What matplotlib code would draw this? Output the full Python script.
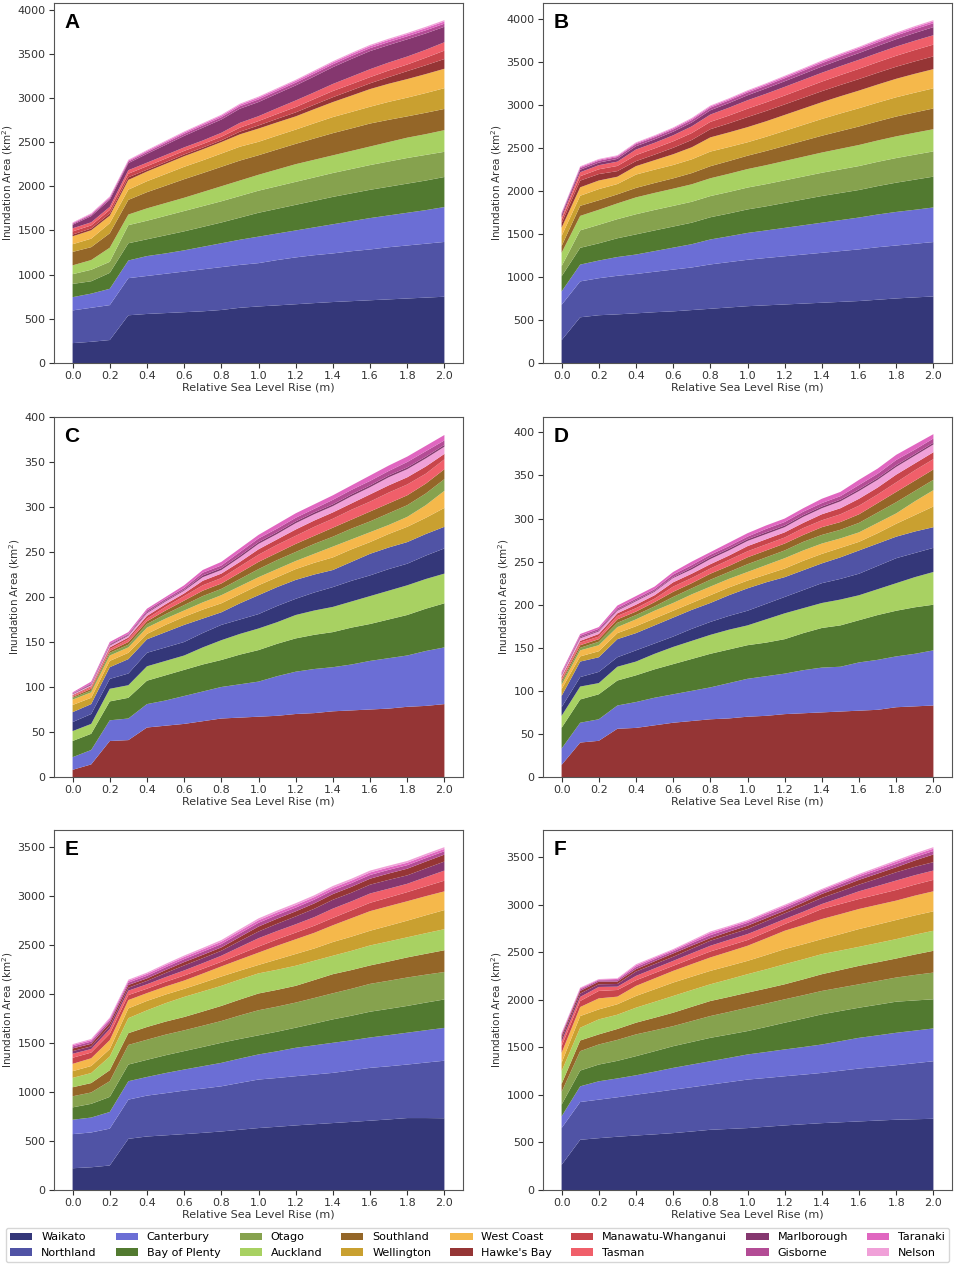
import matplotlib.pyplot as plt
from matplotlib.patches import Patch

slr = [0.0, 0.1, 0.2, 0.3, 0.4, 0.5, 0.6, 0.7, 0.8, 0.9, 1.0,
       1.1, 1.2, 1.3, 1.4, 1.5, 1.6, 1.7, 1.8, 1.9, 2.0]

regions = ['Waikato', 'Northland', 'Canterbury', 'Bay of Plenty', 'Otago', 'Auckland',
           'Southland', 'Wellington', 'West Coast', "Hawke's Bay", 'Manawatu-Whanganui',
           'Tasman', 'Marlborough', 'Gisborne', 'Taranaki', 'Nelson']

colours = ['#343779', '#5053a5', '#6b6ed5', '#527a30', '#86a24e', '#a8d162',
           '#946628', '#c9a030', '#f5b84b', '#953535', '#c8454b',
           '#f05f6a', '#85376f', '#b34c95', '#e066c0', '#f0a0d8']

# stacking order (bottom -> top) used in each pair of panels
order_ab = regions
order_cd = ["Hawke's Bay", 'Canterbury', 'Bay of Plenty', 'Auckland', 'Waikato', 'Northland',
            'Wellington', 'West Coast', 'Otago', 'Southland', 'Tasman', 'Manawatu-Whanganui',
            'Nelson', 'Marlborough', 'Gisborne', 'Taranaki']
order_ef = ['Waikato', 'Northland', 'Canterbury', 'Bay of Plenty', 'Otago', 'Southland',
            'Auckland', 'Wellington', 'West Coast', 'Manawatu-Whanganui', 'Tasman',
            'Marlborough', "Hawke's Bay", 'Gisborne', 'Taranaki', 'Nelson']

# inundation area (km2) per region, panel A
area_a = {
    'Waikato': [225, 240, 260, 540, 555, 565, 575, 585, 600, 625, 640, 652, 665, 678, 690, 700, 710, 720, 730, 740, 750],
    'Northland': [370, 385, 395, 420, 430, 445, 460, 475, 485, 485, 490, 513, 530, 542, 550, 565, 575, 590, 600, 610, 620],
    'Canterbury': [150, 160, 185, 200, 225, 230, 240, 255, 270, 285, 300, 300, 305, 315, 330, 340, 355, 360, 370, 380, 395],
    'Bay of Plenty': [150, 140, 180, 195, 190, 205, 215, 225, 235, 250, 270, 280, 290, 300, 310, 315, 320, 325, 330, 335, 340],
    'Otago': [110, 130, 125, 205, 210, 220, 230, 235, 240, 245, 250, 255, 260, 265, 270, 275, 280, 285, 290, 290, 285],
    'Auckland': [100, 110, 160, 120, 140, 145, 150, 160, 170, 175, 180, 190, 200, 200, 200, 205, 210, 220, 230, 235, 245],
    'Southland': [152, 146, 163, 166, 183, 196, 210, 214, 220, 226, 221, 226, 230, 241, 251, 255, 260, 252, 241, 242, 240],
    'Wellington': [87, 96, 114, 116, 124, 132, 140, 144, 150, 157, 152, 157, 161, 172, 182, 186, 190, 203, 212, 223, 235],
    'West Coast': [90, 95, 85, 110, 110, 115, 120, 125, 130, 140, 150, 150, 150, 160, 170, 185, 200, 205, 210, 215, 220],
    "Hawke's Bay": [20, 20, 25, 30, 20, 20, 20, 20, 20, 30, 35, 40, 45, 50, 55, 60, 65, 75, 90, 100, 110],
    'Manawatu-Whanganui': [35, 35, 40, 40, 40, 40, 40, 40, 40, 45, 50, 55, 60, 65, 70, 70, 70, 75, 75, 85, 95],
    'Tasman': [35, 35, 35, 40, 40, 40, 40, 40, 45, 55, 55, 65, 75, 75, 80, 85, 90, 90, 90, 90, 95],
    'Marlborough': [40, 70, 80, 80, 100, 115, 130, 145, 150, 160, 160, 165, 170, 180, 190, 200, 205, 198, 195, 185, 175],
    'Gisborne': [12, 15, 18, 18, 20, 22, 24, 25, 26, 28, 30, 30, 31, 32, 32, 33, 33, 34, 34, 35, 35],
    'Taranaki': [8, 10, 12, 12, 14, 15, 16, 17, 18, 18, 20, 20, 21, 22, 22, 23, 23, 24, 24, 25, 25],
    'Nelson': [6, 8, 8, 8, 9, 10, 10, 10, 11, 11, 12, 12, 12, 13, 13, 13, 14, 14, 14, 15, 15],
}

area_b = {
    'Waikato': [265, 531, 555, 565, 577, 590, 600, 615, 630, 645, 660, 670, 680, 690, 700, 710, 720, 735, 750, 762, 773],
    'Northland': [410, 417, 430, 448, 457, 470, 485, 495, 515, 527, 539, 550, 560, 570, 580, 590, 600, 610, 615, 623, 632],
    'Canterbury': [156, 195, 205, 218, 226, 240, 255, 270, 290, 300, 312, 320, 330, 340, 350, 360, 370, 380, 390, 395, 402],
    'Bay of Plenty': [176, 195, 200, 218, 234, 240, 245, 250, 258, 265, 273, 280, 290, 300, 310, 315, 320, 330, 340, 350, 358],
    'Otago': [117, 203, 215, 222, 234, 238, 240, 243, 246, 250, 254, 258, 262, 266, 270, 274, 278, 282, 286, 290, 293],
    'Auckland': [156, 168, 175, 183, 196, 198, 200, 203, 207, 211, 215, 220, 225, 230, 235, 240, 245, 248, 252, 255, 258],
    'Southland': [78, 117, 110, 105, 110, 115, 120, 130, 140, 148, 155, 165, 175, 185, 195, 205, 215, 222, 230, 236, 241],
    'Wellington': [117, 117, 130, 120, 155, 155, 155, 160, 170, 163, 156, 165, 175, 185, 195, 205, 212, 218, 224, 229, 234],
    'West Coast': [97, 98, 100, 85, 98, 110, 125, 140, 165, 170, 176, 180, 185, 190, 195, 200, 205, 210, 215, 220, 223],
    "Hawke's Bay": [51, 78, 75, 65, 58, 65, 75, 85, 95, 105, 117, 120, 122, 125, 128, 131, 134, 137, 140, 144, 148],
    'Manawatu-Whanganui': [39, 51, 55, 60, 70, 72, 75, 80, 85, 90, 97, 100, 103, 107, 111, 115, 119, 123, 127, 132, 137],
    'Tasman': [28, 46, 48, 50, 65, 65, 70, 78, 85, 92, 98, 100, 101, 102, 103, 104, 105, 106, 107, 108, 109],
    'Marlborough': [27, 29, 30, 32, 38, 40, 42, 45, 50, 54, 58, 62, 65, 68, 72, 75, 78, 82, 86, 90, 94],
    'Gisborne': [15, 20, 22, 22, 25, 25, 26, 28, 30, 30, 32, 33, 35, 37, 39, 40, 41, 42, 43, 44, 45],
    'Taranaki': [10, 12, 12, 12, 12, 13, 14, 15, 15, 15, 16, 17, 18, 18, 19, 20, 20, 21, 21, 22, 22],
    'Nelson': [6, 8, 8, 8, 8, 9, 9, 10, 10, 10, 10, 10, 11, 11, 12, 12, 12, 13, 13, 14, 14],
}

area_c = {
    'Waikato': [10, 11, 11, 13, 15, 15, 15, 16, 17, 16, 16, 18, 18, 20, 22, 23, 23, 24, 24, 26, 28],
    'Northland': [11, 11, 13, 16, 15, 17, 19, 16, 14, 18, 21, 21, 21, 20, 19, 21, 24, 24, 24, 24, 24],
    'Canterbury': [14, 16, 23, 24, 26, 28, 31, 33, 35, 37, 39, 44, 47, 49, 49, 51, 54, 56, 57, 61, 63],
    'Bay of Plenty': [18, 18, 21, 23, 26, 28, 29, 30, 30, 33, 35, 36, 37, 38, 39, 41, 41, 43, 45, 47, 49],
    'Otago': [2, 2, 3, 3, 4, 5, 6, 7, 7, 8, 9, 10, 10, 11, 11, 12, 12, 13, 13, 13, 13],
    'Auckland': [11, 11, 14, 14, 16, 16, 16, 19, 22, 23, 24, 24, 26, 27, 28, 29, 31, 32, 33, 33, 33],
    'Southland': [1, 2, 2, 3, 3, 4, 5, 6, 6, 7, 8, 8, 9, 9, 10, 10, 11, 11, 11, 11, 11],
    'Wellington': [8, 7, 7, 7, 6, 8, 9, 10, 10, 10, 11, 11, 12, 13, 14, 14, 13, 15, 17, 18, 21],
    'West Coast': [6, 6, 6, 6, 7, 7, 7, 8, 9, 9, 9, 9, 9, 10, 12, 11, 11, 10, 11, 14, 19],
    "Hawke's Bay": [8, 14, 40, 41, 55, 57, 59, 62, 65, 66, 67, 68, 70, 71, 73, 74, 75, 76, 78, 79, 81],
    'Manawatu-Whanganui': [1, 1, 2, 2, 3, 3, 3, 5, 5, 5, 6, 6, 7, 7, 7, 7, 8, 8, 8, 8, 6],
    'Tasman': [1, 2, 2, 3, 3, 4, 5, 6, 6, 7, 8, 9, 9, 10, 10, 11, 11, 12, 12, 11, 11],
    'Marlborough': [0.5, 1, 1, 1, 1, 1, 1, 2, 2, 2, 2, 2, 2, 2, 2, 2, 2, 2, 2, 2, 2],
    'Gisborne': [0.5, 1, 1, 1, 2, 2, 2, 3, 3, 4, 4, 4, 4, 4, 5, 5, 5, 5, 6, 6, 5],
    'Taranaki': [1, 2, 2, 2, 2, 2, 3, 3, 4, 4, 4, 5, 5, 5, 5, 5, 6, 6, 6, 6, 6],
    'Nelson': [1, 1, 2, 2, 3, 3, 3, 4, 4, 5, 6, 6, 7, 7, 7, 8, 8, 9, 9, 9, 8],
}

area_d = {
    'Waikato': [10, 11, 13, 11, 13, 12, 12, 14, 15, 16, 17, 18, 19, 21, 23, 24, 25, 27, 29, 28, 28],
    'Northland': [13, 18, 17, 21, 20, 21, 22, 22, 22, 24, 26, 25, 23, 23, 23, 25, 27, 26, 25, 25, 24],
    'Canterbury': [19, 23, 25, 27, 30, 32, 33, 35, 37, 41, 44, 46, 47, 50, 52, 52, 56, 58, 59, 61, 64],
    'Bay of Plenty': [24, 27, 29, 29, 31, 33, 35, 37, 39, 39, 39, 39, 40, 43, 46, 48, 49, 52, 53, 54, 53],
    'Otago': [3, 3, 4, 5, 5, 5, 7, 7, 8, 8, 9, 9, 9, 10, 10, 10, 11, 12, 13, 12, 12],
    'Auckland': [14, 15, 13, 16, 16, 18, 20, 21, 22, 23, 23, 27, 30, 29, 29, 30, 29, 30, 32, 35, 38],
    'Southland': [2, 3, 3, 4, 4, 5, 6, 6, 7, 7, 8, 8, 8, 8, 9, 9, 10, 11, 12, 12, 12],
    'Wellington': [8, 6, 7, 7, 8, 8, 8, 8, 9, 9, 9, 9, 10, 11, 11, 11, 10, 12, 15, 19, 24],
    'West Coast': [5, 7, 7, 7, 8, 9, 9, 10, 10, 10, 10, 11, 12, 12, 12, 11, 11, 12, 12, 16, 19],
    "Hawke's Bay": [14, 40, 42, 56, 57, 60, 63, 65, 67, 68, 70, 71, 73, 74, 75, 76, 77, 78, 81, 82, 83],
    'Manawatu-Whanganui': [2, 2, 3, 3, 4, 4, 5, 5, 5, 5, 6, 6, 6, 6, 7, 7, 8, 8, 9, 8, 8],
    'Tasman': [2, 3, 3, 4, 4, 4, 6, 6, 6, 7, 7, 7, 7, 8, 8, 9, 10, 10, 11, 12, 12],
    'Marlborough': [1, 1, 1, 1, 1, 1, 1, 2, 2, 2, 2, 2, 2, 2, 2, 2, 2, 2, 2, 2, 2],
    'Gisborne': [1, 2, 2, 2, 2, 2, 3, 3, 3, 3, 3, 4, 4, 4, 4, 4, 5, 5, 6, 5, 5],
    'Taranaki': [2, 2, 2, 3, 3, 3, 3, 4, 3, 4, 4, 4, 4, 4, 5, 5, 6, 6, 6, 6, 5],
    'Nelson': [2, 3, 3, 3, 4, 4, 5, 5, 6, 6, 6, 6, 6, 7, 7, 8, 9, 9, 9, 9, 9],
}

area_e = {
    'Waikato': [222, 232, 250, 522, 546, 558, 570, 583, 597, 615, 632, 645, 659, 671, 683, 695, 707, 720, 734, 734, 732],
    'Northland': [348, 355, 376, 400, 417, 430, 444, 452, 461, 478, 495, 498, 502, 507, 512, 525, 539, 542, 546, 566, 587],
    'Canterbury': [147, 152, 170, 188, 190, 205, 215, 228, 239, 248, 256, 272, 290, 298, 307, 307, 310, 318, 325, 330, 335],
    'Bay of Plenty': [126, 140, 154, 170, 175, 182, 188, 196, 205, 200, 195, 200, 205, 222, 239, 251, 263, 268, 273, 282, 290],
    'Otago': [113, 116, 160, 200, 205, 210, 212, 217, 222, 240, 256, 256, 256, 261, 266, 275, 284, 287, 290, 285, 280],
    'Auckland': [96, 102, 140, 153, 170, 188, 205, 205, 205, 205, 205, 205, 205, 197, 188, 196, 204, 205, 205, 210, 215],
    'Southland': [92, 96, 112, 120, 130, 133, 136, 145, 154, 162, 171, 171, 171, 183, 195, 191, 188, 196, 205, 213, 222],
    'Wellington': [68, 72, 75, 100, 96, 88, 82, 88, 95, 90, 86, 105, 120, 125, 140, 145, 150, 160, 170, 183, 195],
    'West Coast': [75, 79, 92, 85, 80, 82, 85, 94, 103, 114, 126, 140, 150, 160, 171, 188, 200, 200, 198, 195, 191],
    "Hawke's Bay": [27, 27, 32, 28, 26, 30, 34, 34, 34, 42, 51, 52, 52, 55, 58, 60, 61, 65, 68, 70, 71],
    'Manawatu-Whanganui': [62, 58, 65, 51, 45, 48, 51, 49, 47, 54, 61, 65, 68, 72, 75, 80, 85, 88, 93, 100, 109],
    'Tasman': [41, 36, 48, 45, 45, 48, 52, 57, 62, 74, 86, 85, 85, 88, 95, 92, 95, 90, 85, 94, 103],
    'Marlborough': [27, 27, 32, 30, 34, 42, 51, 51, 51, 60, 68, 74, 80, 85, 90, 88, 90, 90, 86, 89, 92],
    'Gisborne': [20, 22, 24, 24, 26, 28, 30, 32, 34, 36, 38, 38, 38, 38, 38, 38, 38, 37, 36, 35, 34],
    'Taranaki': [14, 16, 18, 18, 20, 21, 22, 23, 24, 25, 26, 26, 26, 26, 26, 26, 26, 25, 25, 25, 24],
    'Nelson': [10, 11, 12, 12, 13, 14, 15, 16, 17, 18, 19, 19, 19, 19, 19, 19, 19, 18, 18, 18, 18],
}

area_f = {
    'Waikato': [264, 528, 545, 560, 573, 585, 598, 615, 633, 642, 651, 665, 679, 691, 703, 712, 721, 730, 739, 744, 749],
    'Northland': [387, 397, 405, 415, 429, 443, 457, 466, 475, 492, 510, 513, 517, 522, 528, 542, 556, 564, 573, 589, 605],
    'Canterbury': [123, 165, 193, 198, 204, 216, 229, 238, 246, 255, 264, 273, 282, 290, 299, 311, 323, 332, 341, 343, 345],
    'Bay of Plenty': [123, 166, 176, 185, 201, 215, 228, 237, 246, 246, 246, 263, 281, 299, 317, 317, 317, 322, 327, 317, 306],
    'Otago': [134, 204, 211, 220, 229, 220, 211, 220, 229, 237, 246, 246, 246, 246, 246, 246, 246, 250, 254, 268, 281],
    'Auckland': [134, 134, 158, 150, 158, 167, 176, 176, 176, 185, 194, 202, 211, 211, 211, 205, 200, 202, 204, 208, 211],
    'Southland': [84, 112, 106, 115, 123, 132, 141, 150, 158, 158, 158, 158, 158, 167, 176, 185, 194, 197, 200, 215, 229],
    'Wellington': [88, 123, 105, 110, 123, 132, 141, 141, 141, 141, 140, 150, 159, 158, 158, 172, 187, 194, 201, 203, 204],
    'West Coast': [105, 95, 116, 80, 106, 115, 123, 132, 141, 150, 159, 176, 193, 202, 211, 211, 211, 208, 204, 208, 211],
    "Hawke's Bay": [25, 28, 28, 25, 25, 30, 35, 32, 28, 32, 35, 32, 28, 35, 42, 46, 50, 52, 53, 67, 81],
    'Manawatu-Whanganui': [70, 63, 78, 70, 59, 56, 53, 58, 63, 62, 60, 65, 70, 88, 106, 106, 105, 108, 112, 116, 120],
    'Tasman': [46, 43, 42, 35, 46, 49, 52, 56, 60, 62, 63, 58, 53, 52, 52, 66, 81, 90, 99, 99, 98],
    'Marlborough': [35, 35, 28, 28, 46, 45, 43, 48, 53, 53, 53, 57, 60, 62, 64, 67, 70, 78, 87, 88, 88],
    'Gisborne': [16, 16, 14, 16, 22, 22, 22, 26, 30, 30, 30, 30, 30, 28, 26, 28, 30, 32, 34, 35, 36],
    'Taranaki': [12, 12, 8, 12, 18, 16, 14, 18, 25, 20, 18, 20, 20, 18, 16, 18, 20, 22, 24, 24, 25],
    'Nelson': [7, 7, 5, 7, 12, 10, 10, 12, 14, 12, 12, 12, 13, 12, 11, 12, 13, 14, 15, 15, 16],
}

W, H = 955, 1265
fig = plt.figure(figsize=(W / 100, H / 100), dpi=100)

# (letter, data, order, left px, top px)
panels = [
    ('A', area_a, order_ab, 54, 3),
    ('B', area_b, order_ab, 543, 3),
    ('C', area_c, order_cd, 54, 417),
    ('D', area_d, order_cd, 543, 417),
    ('E', area_e, order_ef, 54, 830),
    ('F', area_f, order_ef, 543, 830),
]
aw, ah = 409, 360

colour_of = dict(zip(regions, colours))

for letter, data, order, left, top in panels:
    ax = fig.add_axes([left / W, 1 - (top + ah) / H, aw / W, ah / H])
    ax.stackplot(slr, [data[r] for r in order],
                 colors=[colour_of[r] for r in order], linewidth=0)
    ax.set_xticks([0.0, 0.2, 0.4, 0.6, 0.8, 1.0, 1.2, 1.4, 1.6, 1.8, 2.0])
    if letter == 'C':
        ax.set_ylim(0, 400)
    ax.tick_params(labelsize=8, colors='#333333', pad=2.5)
    for s in ax.spines.values():
        s.set_color('#555555')
    ax.set_xlabel('Relative Sea Level Rise (m)', fontsize=8, labelpad=1, color='#333333')
    ax.set_ylabel('Inundation Area (km$^2$)', fontsize=7.5, labelpad=1.5, color='#333333')
    ax.text(0.025, 0.972, letter, transform=ax.transAxes, ha='left', va='top',
            fontsize=15, fontweight='bold', family='Liberation Sans')

handles = [Patch(facecolor=c, label=r) for r, c in zip(regions, colours)]
fig.legend(handles=handles, loc='lower left', ncol=8, mode='expand',
           bbox_to_anchor=(0.006, 0.002, 0.988, 0.03), fontsize=8,
           borderaxespad=0, handlelength=2.0)

fig.savefig('out.png', dpi=100)
